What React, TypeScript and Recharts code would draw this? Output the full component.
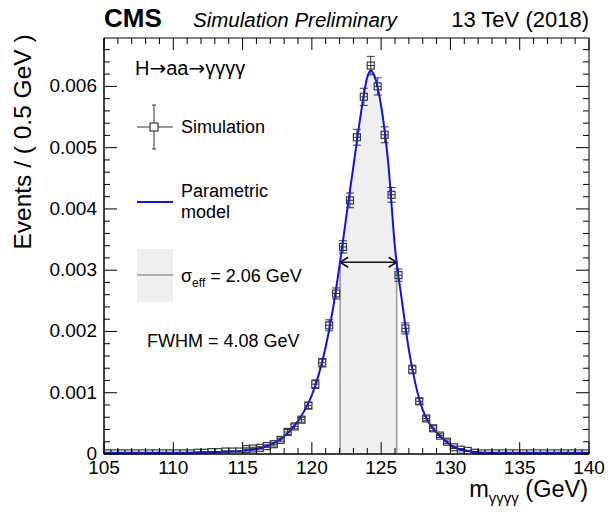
import React from "react";
import {
  ComposedChart,
  XAxis,
  YAxis,
  Scatter,
  Line,
  Area,
  ErrorBar,
  ReferenceLine,
  ReferenceArea,
} from "recharts";

// ---------- data ----------
const binCenters = [
  105.25, 105.75, 106.25, 106.75, 107.25, 107.75, 108.25, 108.75, 109.25, 109.75,
  110.25, 110.75, 111.25, 111.75, 112.25, 112.75, 113.25, 113.75, 114.25, 114.75,
  115.25, 115.75, 116.25, 116.75, 117.25, 117.75, 118.25, 118.75, 119.25, 119.75,
  120.25, 120.75, 121.25, 121.75, 122.25, 122.75, 123.25, 123.75, 124.25, 124.75,
  125.25, 125.75, 126.25, 126.75, 127.25, 127.75, 128.25, 128.75, 129.25, 129.75,
  130.25, 130.75, 131.25, 131.75, 132.25, 132.75, 133.25, 133.75, 134.25, 134.75,
  135.25, 135.75, 136.25, 136.75, 137.25, 137.75, 138.25, 138.75, 139.25, 139.75,
];

const simValues = [
  0.00001, 0.00001, 0.00001, 0.00001, 0.00001, 0.00001, 0.00001, 0.00001, 0.00001, 0.00001,
  0.00001, 0.00001, 0.00001, 0.00002, 0.00002, 0.00003, 0.00003, 0.00004, 0.00004, 0.00004,
  0.00008, 0.00009, 0.0001, 0.00013, 0.00016, 0.00023, 0.00036, 0.00045, 0.00056, 0.00079,
  0.00114, 0.00149, 0.0021, 0.00262, 0.00338, 0.00414, 0.00517, 0.00583, 0.00634, 0.006,
  0.00521, 0.00423, 0.00292, 0.00205, 0.00138, 0.00086, 0.00058, 0.00042, 0.0003, 0.0002,
  0.00011, 0.00007, 0.00005, 0.00002, 0.00001, 0.00001, 0.00001, 0.00001, 0.00001, 0.00001,
  0.00001, 0.00001, 0.00001, 0.00001, 0.00001, 0.00001, 0.00001, 0.00001, 0.00001, 0.00001,
];

const simErrors = [
  0.00001, 0.00001, 0.00001, 0.00001, 0.00001, 0.00001, 0.00001, 0.00001, 0.00001, 0.00001,
  0.00001, 0.00001, 0.00001, 0.00001, 0.00001, 0.00001, 0.00001, 0.00001, 0.00001, 0.00001,
  0.00002, 0.00002, 0.00002, 0.00002, 0.00003, 0.00003, 0.00004, 0.00004, 0.00004, 0.00005,
  0.00007, 0.00007, 0.00009, 0.00009, 0.0001, 0.00012, 0.00013, 0.00014, 0.00015, 0.00014,
  0.00013, 0.00012, 0.0001, 0.00009, 0.00007, 0.00005, 0.00004, 0.00004, 0.00003, 0.00003,
  0.00002, 0.00002, 0.00001, 0.00001, 0.00001, 0.00001, 0.00001, 0.00001, 0.00001, 0.00001,
  0.00001, 0.00001, 0.00001, 0.00001, 0.00001, 0.00001, 0.00001, 0.00001, 0.00001, 0.00001,
];

const binHalfWidth = 0.25;

const curveX = [
  105, 107, 109, 111, 112, 113, 114, 115, 115.5, 116, 116.5, 117, 117.5, 118, 118.5,
  119, 119.5, 120, 120.5, 121, 121.5, 122, 122.5, 123, 123.5, 124, 124.25, 124.5, 125,
  125.5, 126, 126.5, 127, 127.5, 128, 128.5, 129, 129.5, 130, 130.5, 131, 131.5, 132,
  133, 135, 140,
];
const curveY = [
  0.00002, 0.00002, 0.00002, 0.00002, 0.00003, 0.00003, 0.00004, 0.00005, 0.00006, 0.00008,
  0.00011, 0.00015, 0.00021, 0.00029, 0.0004, 0.00054, 0.00072, 0.00096, 0.0013, 0.00175,
  0.00234, 0.00308, 0.0039, 0.0047, 0.0055, 0.00615, 0.00626, 0.00618, 0.00568, 0.00478,
  0.00337, 0.0025, 0.0017, 0.00112, 0.00072, 0.00049, 0.00035, 0.00024, 0.00015, 0.00009,
  0.00006, 0.00004, 0.00003, 0.00002, 0.00002, 0.00002,
];

const fwhmLow = 122.04;
const fwhmHigh = 126.12;
const halfMax = 0.00313;

const xMajorTicks = [105, 110, 115, 120, 125, 130, 135, 140];
const xMinorStep = 1;
const yMajorTicks = [0, 0.001, 0.002, 0.003, 0.004, 0.005, 0.006];
const yMinorStep = 0.0002;
const xDomain = [105, 140];
const yDomain = [0, 0.00679];

// ---------- derived tables ----------
const simData = binCenters.map((x, i) => ({
  x,
  y: simValues[i],
  yerr: simErrors[i],
  xerr: binHalfWidth,
}));
const curveData = curveX.map((x, i) => ({ x, y: curveY[i] }));
const shadeData = [
  { x: fwhmLow, y: halfMax },
  ...curveData.filter((d) => d.x > fwhmLow && d.x < fwhmHigh),
  { x: fwhmHigh, y: halfMax },
];

const xTicks: number[] = [];
for (let v = xDomain[0]; v <= xDomain[1] + 1e-9; v += xMinorStep) xTicks.push(v);
const yTicks: number[] = [];
for (let k = 0; k * yMinorStep <= yDomain[1] + 1e-12; k++)
  yTicks.push(Math.round(k * yMinorStep * 1e6) / 1e6);

// ---------- layout ----------
const W = 608;
const H = 516;
const PLOT_LEFT = 104;
const PLOT_RIGHT = 589;
const PLOT_TOP = 38;
const PLOT_BOTTOM = 454;
const FONT = "'Liberation Sans', Arial, Helvetica, sans-serif";

const isMajor = (list: number[], v: number) =>
  list.some((t) => Math.abs(t - v) < 1e-9);

const XTick = (props: any) => {
  const { x, y, payload } = props;
  const v = payload.value;
  const major = isMajor(xMajorTicks, v);
  const len = major ? 12 : 6;
  return (
    <g>
      <line x1={x} x2={x} y1={y} y2={y - len} stroke="#000" strokeWidth={1} />
      <line x1={x} x2={x} y1={PLOT_TOP} y2={PLOT_TOP + len} stroke="#000" strokeWidth={1} />
      {major && (
        <text x={x} y={y + 20} textAnchor="middle" fontSize={19} fontFamily={FONT} fill="#000">
          {v}
        </text>
      )}
    </g>
  );
};

const YTick = (props: any) => {
  const { x, y, payload } = props;
  const v = payload.value;
  const major = isMajor(yMajorTicks, v);
  const len = major ? 13 : 6;
  return (
    <g>
      <line x1={x} x2={x + len} y1={y} y2={y} stroke="#000" strokeWidth={1} />
      <line x1={PLOT_RIGHT} x2={PLOT_RIGHT - len} y1={y} y2={y} stroke="#000" strokeWidth={1} />
      {major && (
        <text x={x - 7} y={y + 6} textAnchor="end" fontSize={19} fontFamily={FONT} fill="#000">
          {v === 0 ? "0" : v.toFixed(3)}
        </text>
      )}
    </g>
  );
};

const SquareMarker = (props: any) => {
  const { cx, cy } = props;
  if (cx == null || cy == null) return null;
  const s = 7;
  return (
    <rect
      x={cx - s / 2}
      y={cy - s / 2}
      width={s}
      height={s}
      fill="none"
      stroke="#3a3a3a"
      strokeWidth={1.2}
    />
  );
};

const ArrowShape = (props: any) => {
  const { x1, y1, x2, y2 } = props;
  if ([x1, y1, x2, y2].some((v) => v == null || isNaN(v))) return null;
  const a = 8;
  const b = 5;
  return (
    <g stroke="#111" strokeWidth={1.6} fill="none">
      <line x1={x1} y1={y1} x2={x2} y2={y2} />
      <polyline points={`${x1 + a},${y1 - b} ${x1},${y1} ${x1 + a},${y1 + b}`} />
      <polyline points={`${x2 - a},${y2 - b} ${x2},${y2} ${x2 - a},${y2 + b}`} />
    </g>
  );
};

export default function App() {
  return (
    <div style={{ position: "absolute", left: 0, top: 0, width: W, height: H, background: "#fff" }}>
      <ComposedChart
        width={W}
        height={H}
        margin={{ top: PLOT_TOP, right: W - PLOT_RIGHT, left: PLOT_LEFT - 60, bottom: H - PLOT_BOTTOM - 30 }}
      >
        <XAxis
          type="number"
          dataKey="x"
          domain={xDomain}
          ticks={xTicks}
          interval={0}
          allowDataOverflow
          tickSize={0}
          tickMargin={0}
          tickLine={false}
          axisLine={{ stroke: "#000" }}
          tick={<XTick />}
          height={30}
        />
        <YAxis
          type="number"
          dataKey="y"
          domain={yDomain}
          ticks={yTicks}
          interval={0}
          allowDataOverflow
          tickSize={0}
          tickMargin={0}
          tickLine={false}
          axisLine={{ stroke: "#000" }}
          tick={<YTick />}
          width={60}
        />
        <Area
          data={shadeData}
          dataKey="y"
          type="monotone"
          fill="#efefef"
          fillOpacity={1}
          stroke="none"
          isAnimationActive={false}
          dot={false}
          activeDot={false}
        />
        <ReferenceLine
          segment={[{ x: fwhmLow, y: 0 }, { x: fwhmLow, y: halfMax }]}
          stroke="#9a9a9a"
          strokeWidth={1.6}
        />
        <ReferenceLine
          segment={[{ x: fwhmHigh, y: 0 }, { x: fwhmHigh, y: halfMax }]}
          stroke="#9a9a9a"
          strokeWidth={1.6}
        />
        <ReferenceLine
          segment={[{ x: fwhmLow, y: halfMax }, { x: fwhmHigh, y: halfMax }]}
          shape={ArrowShape}
        />
        <Scatter data={simData} dataKey="y" shape={<SquareMarker />} isAnimationActive={false}>
          <ErrorBar dataKey="yerr" direction="y" width={4} stroke="#333" strokeWidth={1} />
          <ErrorBar dataKey="xerr" direction="x" width={0} stroke="#333" strokeWidth={1} />
        </Scatter>
        <Line
          data={curveData}
          dataKey="y"
          type="monotone"
          stroke="#1212e6"
          strokeWidth={2}
          dot={false}
          activeDot={false}
          isAnimationActive={false}
        />
        <ReferenceArea
          x1={xDomain[0]}
          x2={xDomain[1]}
          y1={yDomain[0]}
          y2={yDomain[1]}
          fill="none"
          stroke="#000"
          strokeWidth={1}
        />
      </ComposedChart>

      <svg
        width={W}
        height={H}
        style={{ position: "absolute", left: 0, top: 0, pointerEvents: "none" }}
        fontFamily={FONT}
      >
        <text x={104} y={27} fontSize={26} fontWeight="bold" fill="#000">CMS</text>
        <text x={193} y={27} fontSize={20.5} fontStyle="italic" fill="#000">Simulation Preliminary</text>
        <text x={589} y={27} fontSize={22} textAnchor="end" fill="#000">13 TeV (2018)</text>

        <text
          x={31}
          y={142}
          fontSize={24.5}
          textAnchor="middle"
          transform="rotate(-90 31 142)"
          fill="#000"
        >
          Events / ( 0.5 GeV )
        </text>

        <text x={588} y={497} fontSize={23.5} textAnchor="end" fill="#000">
          m
          <tspan fontSize={15} dy={6}>γγγγ</tspan>
          <tspan dy={-6}> (GeV)</tspan>
        </text>

        <text x={135} y={75} fontSize={20} fill="#000">
          H<tspan fontFamily="'DejaVu Sans'">→</tspan>aa<tspan fontFamily="'DejaVu Sans'">→</tspan>γγγγ
        </text>

        <g stroke="#333" strokeWidth={1}>
          <line x1={154} x2={154} y1={105} y2={149} />
          <line x1={152} x2={156} y1={105} y2={105} />
          <line x1={152} x2={156} y1={149} y2={149} />
          <line x1={137} x2={173} y1={127} y2={127} />
        </g>
        <rect x={150} y={123} width={8} height={8} fill="#fff" stroke="#3a3a3a" strokeWidth={1.2} />
        <text x={181} y={133} fontSize={18} fill="#000">Simulation</text>

        <line x1={137} x2={173} y1={202} y2={202} stroke="#1212e6" strokeWidth={2} />
        <text x={181} y={197} fontSize={18} fill="#000">Parametric</text>
        <text x={181} y={218} fontSize={18} fill="#000">model</text>

        <rect x={137} y={249} width={36} height={53} fill="#efefef" />
        <line x1={137} x2={173} y1={275} y2={275} stroke="#9a9a9a" strokeWidth={1.6} />
        <text x={181} y={282} fontSize={18} fill="#000">
          σ
          <tspan fontSize={12} dy={5}>eff</tspan>
          <tspan dy={-5}> = 2.06 GeV</tspan>
        </text>

        <text x={147} y={347} fontSize={18} fill="#000">FWHM = 4.08 GeV</text>
      </svg>
    </div>
  );
}
